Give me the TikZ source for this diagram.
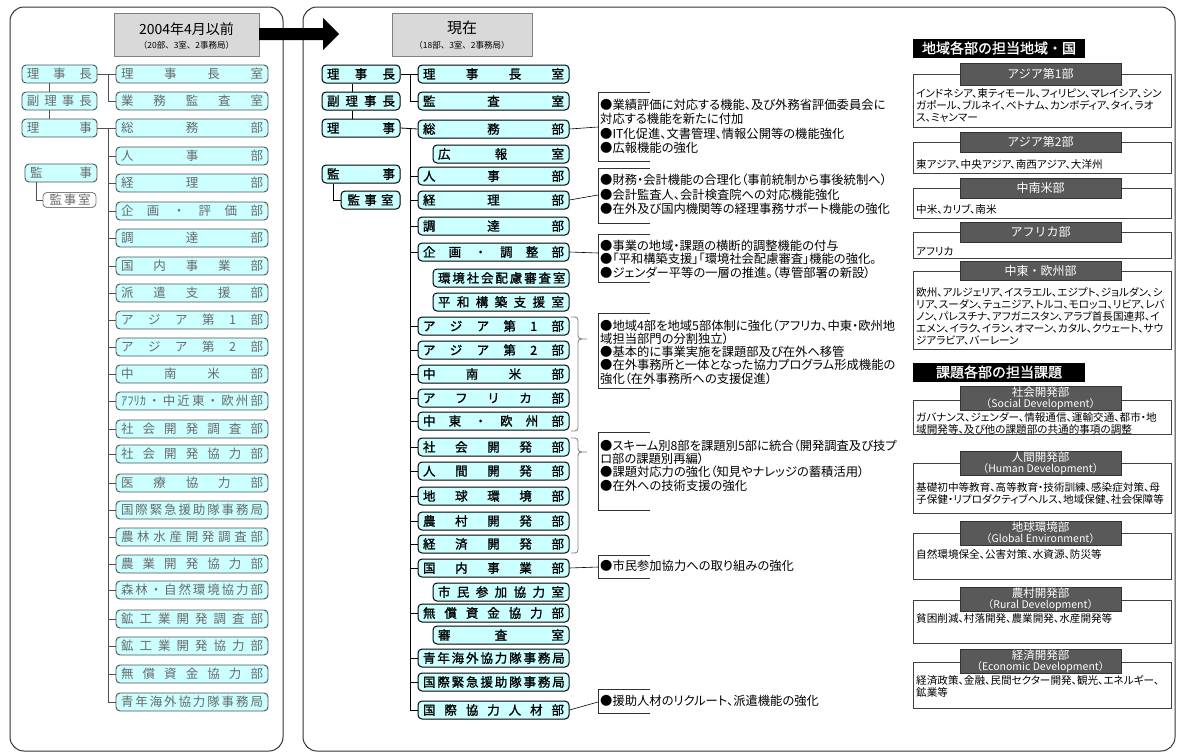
\documentclass[tikz,border=0pt]{standalone}
\usepackage{fontspec}
\newfontfamily\jp{Noto Sans CJK JP}
\newfontfamily\jpb[FakeBold=1.2]{Noto Sans CJK JP}
\newfontfamily\jpp[RawFeature=+palt]{Noto Sans CJK JP}
\newcommand{\ds}[2]{\makebox[#1][s]{#2}}
\definecolor{lcyan}{HTML}{CCFFFF}
\definecolor{ltext}{HTML}{6A6A6A}
\definecolor{lbord}{HTML}{505050}
\definecolor{tgray}{HTML}{D9D9D9}
\definecolor{tabgray}{HTML}{595959}
\begin{document}
\begin{tikzpicture}[x=1pt,y=-1pt,
  lbox/.style={draw=lbord, line width=0.9pt, fill=lcyan, rounded corners=4pt, minimum height=18pt, inner sep=0pt, text=ltext, font=\jp\fontsize{12.5}{13}\selectfont},
  mbox/.style={draw=black, line width=1pt, fill=lcyan, rounded corners=4pt, minimum height=18pt, inner sep=0pt, text=black, font=\jpb\fontsize{12.5}{13}\selectfont},
  lline/.style={draw=lbord, line width=0.8pt},
  mline/.style={draw=black, line width=0.8pt},
  frame/.style={draw=black!80, line width=1pt, rounded corners=14pt},
  ttl/.style={draw=gray, fill=tgray, line width=0.8pt, inner sep=0pt},
  brace/.style={draw=gray, line width=0.8pt},
  bracket/.style={draw=black!80, line width=0.8pt},
  note/.style={anchor=north west, inner sep=0pt, align=left, font=\jpp\fontsize{12.3}{#1}\selectfont},
  hdr/.style={fill=black, text=white, inner sep=0pt, minimum width=172pt, minimum height=19pt, font=\jpb\fontsize{14}{14}\selectfont},
  rframe/.style={draw=black!75, line width=0.8pt, fill=white},
  tab/.style={draw=black!80, fill=tabgray, text=white, inner sep=0pt, minimum width=161pt, font=\jp\fontsize{12}{13}\selectfont},
  tabtxt/.style={text=white, inner sep=0pt, font=\jp\fontsize{11.5}{12}\selectfont},
  tabeng/.style={text=white, inner sep=0pt, font=\jp\fontsize{10.5}{12}\selectfont},
  body/.style={anchor=north west, inner sep=0pt, align=left, font=\jpp\fontsize{10.6}{12}\selectfont}
]
\useasboundingbox (0,0) rectangle (1178,755);
\fill[white] (0,0) rectangle (1178,755);

% panels
\draw[frame] (10,7) rectangle (283,751);
\draw[frame] (303,7) rectangle (1175,751);

% titles
\node[ttl, minimum width=145pt, minimum height=43pt] (t1) at (186.5,34.5) {};
\node[font=\jp\fontsize{14}{14}\selectfont, inner sep=0pt] (t1a) at (186.5,29) {2004年4月以前};
\node[font=\jp\fontsize{8.5}{9}\selectfont, inner sep=0pt] (t1b) at (186.5,45) {（20部、3室、2事務局）};
\node[ttl, minimum width=140pt, minimum height=43pt] (t2) at (462,34.5) {};
\node[font=\jp\fontsize{15}{15}\selectfont, inner sep=0pt] (t2a) at (462,28) {現在};
\node[font=\jp\fontsize{8.5}{9}\selectfont, inner sep=0pt] (t2b) at (462,45) {（18部、3室、2事務局）};

% big arrow
\fill[black] (259,28) -- (323,28) -- (323,18) -- (339,34) -- (323,50) -- (323,40) -- (259,40) -- cycle;

% ---------- left panel ----------
\node[lbox, minimum width=75pt] (lp1) at (59.5,74) {\ds{65pt}{理 事 長}};
\node[lbox, minimum width=75pt] (lp2) at (59.5,101) {\ds{65pt}{副 理 事 長}};
\node[lbox, minimum width=75pt] (lp3) at (59.5,128) {\ds{65pt}{理 事}};
\node[lbox, minimum width=72pt] (lp4) at (61,173) {\ds{62pt}{監 事}};
\node[lbox, fill=white, draw=gray, minimum width=53pt, minimum height=15pt] (lp5) at (69.5,200) {\ds{40pt}{監 事 室}};

\foreach \n/\y/\t in {
 la/74/{理 事 長 室}, lb/101/{業 務 監 査 室}, lc/128/{総 務 部}, ld/156/{人 事 部},
 le/183/{経 理 部}, lf/211/{企 画 ・ 評 価 部}, lg/238/{調 達 部}, lh/266/{国 内 事 業 部},
 li/293/{派 遣 支 援 部}, lj/320/{ア ジ ア 第 1 部}, lk/347/{ア ジ ア 第 2 部}, ll/374/{中 南 米 部},
 lm/401/{ｱﾌﾘｶ ・ 中 近 東 ・ 欧 州 部}, ln/429/{社 会 開 発 調 査 部}, lo/454/{社 会 開 発 協 力 部},
 lq/483/{医 療 協 力 部}, lr/510/{国 際 緊 急 援 助 隊 事 務 局}, ls/537/{農 林 水 産 開 発 調 査 部},
 lu/564/{農 業 開 発 協 力 部}, lv/590/{森 林 ・ 自 然 環 境 協 力 部}, lw/619/{鉱 工 業 開 発 調 査 部},
 lx/646/{鉱 工 業 開 発 協 力 部}, ly/674/{無 償 資 金 協 力 部}, lz/702/{青 年 海 外 協 力 隊 事 務 局}}
 {\node[lbox, minimum width=152pt] (\n) at (192,\y) {\ds{142pt}{\t}};}

\coordinate (lvx) at (49,0);
\coordinate (lkx) at (36,0);
\coordinate (ltx) at (108,0);
\draw[lline] (lvx |- lp1.south) -- (lvx |- lp2.north);
\draw[lline] (lvx |- lp2.south) -- (lvx |- lp3.north);
\draw[lline] (lkx |- lp4.south) |- (lp5.west);
\draw[lline] (lp1.east) -- (la.west);
\draw[lline] (ltx |- la.west) |- (lb.west);
\draw[lline] (lp3.east) -- (lc.west);
\draw[lline] (ltx |- lc.west) -- (ltx |- lz.west);
\foreach \n in {ld,le,lf,lg,lh,li,lj,lk,ll,lm,ln,lo,lq,lr,ls,lu,lv,lw,lx,ly,lz}
 {\draw[lline] (ltx |- \n.west) -- (\n.west);}

% ---------- middle panel ----------
\node[mbox, minimum width=78pt] (mp1) at (361,74) {\ds{68pt}{理 事 長}};
\node[mbox, minimum width=78pt] (mp2) at (361,101) {\ds{68pt}{副 理 事 長}};
\node[mbox, minimum width=78pt] (mp3) at (361,128) {\ds{68pt}{理 事}};
\node[mbox, minimum width=78pt] (mp4) at (361,174) {\ds{68pt}{監 事}};
\node[mbox, minimum width=59pt] (mp5) at (370.5,200) {\ds{46pt}{監 事 室}};

\foreach \n/\y/\t in {
 ma/74/{理 事 長 室}, mb/101/{監 査 室}, mc/129/{総 務 部}, md/176/{人 事 部},
 me/200/{経 理 部}, mf/226/{調 達 部}, mg/252/{企 画 ・ 調 整 部},
 mh/326/{ア ジ ア 第 1 部}, mi/350/{ア ジ ア 第 2 部}, mj/374/{中 南 米 部},
 mk/398/{ア フ リ カ 部}, ml/421/{中 東 ・ 欧 州 部}, mm/447/{社 会 開 発 部},
 mn/471/{人 間 開 発 部}, mo/496/{地 球 環 境 部}, mq/521/{農 村 開 発 部},
 mr/544/{経 済 開 発 部}, ms/568/{国 内 事 業 部}, mt/613/{無 償 資 金 協 力 部},
 mu/658/{青 年 海 外 協 力 隊 事 務 局}, mv/682/{国 際 緊 急 援 助 隊 事 務 局}, mw/710/{国 際 協 力 人 材 部}}
 {\node[mbox, minimum width=151pt] (\n) at (493.5,\y) {\ds{141pt}{\t}};}
\foreach \n/\y/\t in {
 sa/154/{広 報 室}, sb/278/{環 境 社 会 配 慮 審 査 室}, sc/302/{平 和 構 築 支 援 室},
 sd/592/{市 民 参 加 協 力 室}, se/635/{審 査 室}}
 {\node[mbox, minimum width=136pt] (\n) at (501,\y) {\ds{126pt}{\t}};}

\coordinate (mvx) at (352,0);
\coordinate (mkx) at (333,0);
\coordinate (mtx) at (410,0);
\draw[mline] (mvx |- mp1.south) -- (mvx |- mp2.north);
\draw[mline] (mvx |- mp2.south) -- (mvx |- mp3.north);
\draw[mline] (mkx |- mp4.south) |- (mp5.west);
\draw[mline] (mp1.east) -- (ma.west);
\draw[mline] (mtx |- ma.west) |- (mb.west);
\draw[mline] (mp3.east) -- (mc.west);
\draw[mline] (mtx |- mc.west) -- (mtx |- mw.west);
\foreach \n in {md,me,mf,mg,mh,mi,mj,mk,ml,mm,mn,mo,mq,mr,ms,mt,mu,mv,mw}
 {\draw[mline] (mtx |- \n.west) -- (\n.west);}

% braces
\draw[brace] (571,317) .. controls (578,317) .. (578,324) -- (578,333) .. controls (578,339) .. (587,339) .. controls (578,339) .. (578,345) -- (578,424) .. controls (578,431) .. (571,431);
\draw[brace] (571,438) .. controls (578,438) .. (578,445) -- (578,446) .. controls (578,452) .. (587,452) .. controls (578,452) .. (578,458) -- (578,546) .. controls (578,553) .. (571,553);

% notes
\coordinate (n1) at (598,127);
\coordinate (n2) at (598,195);
\coordinate (n3) at (598,253);
\coordinate (n6) at (598,567);
\coordinate (n7) at (598,702);
\draw[bracket] (650,92) -- (598,92) -- (598,161) -- (650,161);
\draw[bracket] (650,168) -- (598,168) -- (598,223) -- (650,223);
\draw[bracket] (650,234) -- (598,234) -- (598,282) -- (650,282);
\draw[bracket] (650,313) -- (598,313) -- (598,388) -- (650,388);
\draw[bracket] (650,432) -- (598,432) -- (598,510) -- (650,510);
\draw[bracket] (650,555) -- (598,555) -- (598,578) -- (650,578);
\draw[bracket] (650,689) -- (598,689) -- (598,713) -- (650,713);
\draw[mline, line width=0.6pt] (mc.east) -- (n1);
\draw[mline, line width=0.6pt] (me.east) -- (n2);
\draw[mline, line width=0.6pt] (mg.east) -- (n3);
\draw[mline, line width=0.6pt] (ms.east) -- (n6);
\draw[mline, line width=0.6pt] (mw.east) -- (n7);

\node[note=14.4] (nt1) at (600,98.9) {●業績評価に対応する機能、及び外務省評価委員会に\\対応する機能を新たに付加\\●IT化促進、文書管理、情報公開等の機能強化\\●広報機能の強化};
\node[note=14.6] (nt2) at (600,173.9) {●財務・会計機能の合理化（事前統制から事後統制へ）\\●会計監査人、会計検査院への対応機能強化\\●在外及び国内機関等の経理事務サポート機能の強化};
\node[note=13.8] (nt3) at (600,239.6) {●事業の地域・課題の横断的調整機能の付与\\●「平和構築支援」「環境社会配慮審査」機能の強化。\\●ジェンダー平等の一層の推進。（専管部署の新設）};
\node[note=13.1] (nt4) at (600,319.9) {●地域4部を地域5部体制に強化（アフリカ、中東・欧州地\\域担当部門の分割独立）\\●基本的に事業実施を課題部及び在外へ移管\\●在外事務所と一体となった協力プログラム形成機能の\\強化（在外事務所への支援促進）};
\node[note=13.3] (nt5) at (600,439.6) {●スキーム別8部を課題別5部に統合（開発調査及び技プ\\ロ部の課題別再編）\\●課題対応力の強化（知見やナレッジの蓄積活用）\\●在外への技術支援の強化};
\node[note=13] (nt6) at (600,559.9) {●市民参加協力への取り組みの強化};
\node[note=13] (nt7) at (600,694.9) {●援助人材のリクルート、派遣機能の強化};

% ---------- right section ----------
\node[hdr] (h1) at (999,48) {地域各部の担当地域・国};
\node[hdr] (h2) at (999,372) {課題各部の担当課題};

\draw[rframe] (913,74) rectangle (1171,127);
\node[tab, minimum height=22pt] (r1) at (1040.5,74) {アジア第1部};
\node[body] (r1b) at (916,88.7) {インドネシア、東ティモール、フィリピン、マレイシア、シン\\ガポール、ブルネイ、ベトナム、カンボディア、タイ、ラオ\\ス、ミャンマー};

\draw[rframe] (913,142) rectangle (1171,173);
\node[tab, minimum height=20pt] (r2) at (1040.5,142) {アジア第2部};
\node[body] (r2b) at (916,159.7) {東アジア、中央アジア、南西アジア、大洋州};

\draw[rframe] (913,188) rectangle (1171,218);
\node[tab, minimum height=20pt] (r3) at (1040.5,188) {中南米部};
\node[body] (r3b) at (916,204.7) {中米、カリブ、南米};

\draw[rframe] (913,232) rectangle (1171,258);
\node[tab, minimum height=20pt] (r4) at (1040.5,232) {アフリカ部};
\node[body] (r4b) at (916,246.7) {アフリカ};

\draw[rframe] (913,271) rectangle (1171,349);
\node[tab, minimum height=19pt] (r5) at (1040.5,271) {中東・欧州部};
\node[body] (r5b) at (916,287.7) {欧州、アルジェリア、イスラエル、エジプト、ジョルダン、シ\\リア、スーダン、テュニジア、トルコ、モロッコ、リビア、レバ\\ノン、パレスチナ、アフガニスタン、アラブ首長国連邦、イ\\エメン、イラク、イラン、オマーン、カタル、クウェート、サウ\\ジアラビア、バーレーン};

% topic boxes
\draw[rframe] (913,400) rectangle (1171,434);
\node[tab, minimum height=24pt] (k1) at (1040.5,398) {};
\node[tabtxt] (k1t) at (1040.5,392) {社会開発部};
\node[tabeng] (k1e) at (1040.5,404) {（Social Development）};
\node[body] (k1b) at (916,412.8) {ガバナンス、ジェンダー、情報通信、運輸交通、都市・地\\域開発等、及び他の課題部の共通的事項の調整};

\draw[rframe] (913,463) rectangle (1171,513);
\node[tab, minimum height=24pt] (k2) at (1040.5,463) {};
\node[tabtxt] (k2t) at (1040.5,457) {人間開発部};
\node[tabeng] (k2e) at (1040.5,469) {（Human Development）};
\node[body] (k2b) at (916,482.7) {基礎初中等教育、高等教育・技術訓練、感染症対策、母\\子保健・リプロダクティブヘルス、地域保健、社会保障等};

\draw[rframe] (913,533) rectangle (1171,579);
\node[tab, minimum height=24pt] (k3) at (1040.5,533) {};
\node[tabtxt] (k3t) at (1040.5,527) {地球環境部};
\node[tabeng] (k3e) at (1040.5,539) {（Global Environment）};
\node[body] (k3b) at (916,549.7) {自然環境保全、公害対策、水資源、防災等};

\draw[rframe] (913,600) rectangle (1171,643);
\node[tab, minimum height=24pt] (k4) at (1040.5,599) {};
\node[tabtxt] (k4t) at (1040.5,593) {農村開発部};
\node[tabeng] (k4e) at (1040.5,605) {（Rural Development）};
\node[body] (k4b) at (916,613.3) {貧困削減、村落開発、農業開発、水産開発等};

\draw[rframe] (913,662) rectangle (1171,708);
\node[tab, minimum height=24pt] (k5) at (1040.5,661) {};
\node[tabtxt] (k5t) at (1040.5,655) {経済開発部};
\node[tabeng] (k5e) at (1040.5,667) {（Economic Development）};
\node[body] (k5b) at (916,675.3) {経済政策、金融、民間セクター開発、観光、エネルギー、\\鉱業等};
\end{tikzpicture}
\end{document}
